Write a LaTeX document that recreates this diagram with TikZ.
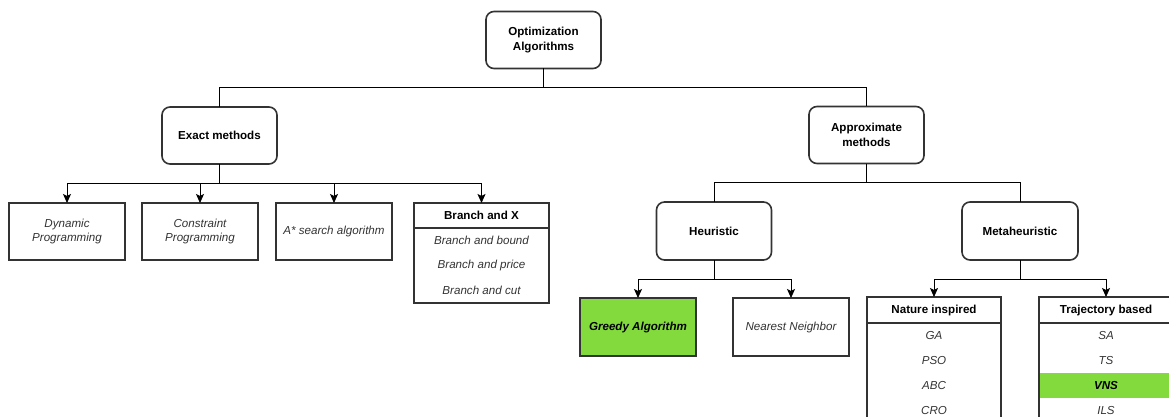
\documentclass[tikz,border=0pt]{standalone}
\usepackage{fontspec}
\setmainfont{Liberation Sans}
\usetikzlibrary{arrows.meta}
\definecolor{boxline}{HTML}{333333}
\definecolor{itemtext}{HTML}{333333}
\definecolor{leafgreen}{RGB}{130,218,60}
\begin{document}
\begin{tikzpicture}[x=1pt,y=-1pt,
  font=\fontsize{11.6}{14.5}\selectfont,
  every node/.style={inner sep=0pt,outer sep=0pt},
  catbox/.style={draw=boxline,line width=1.6pt,rounded corners=8pt,
    minimum width=115pt,minimum height=57pt,align=center,font=\fontsize{11.6}{14.5}\selectfont\bfseries},
  leafbox/.style={draw=boxline,line width=1.6pt,fill=white,
    minimum width=116pt,minimum height=57pt,align=center,text=itemtext,font=\fontsize{11.6}{14.5}\selectfont\itshape},
  listhead/.style={draw=boxline,line width=1.6pt,minimum height=25pt,font=\fontsize{11.6}{14.5}\selectfont\bfseries},
  listrow/.style={minimum height=25pt,text=itemtext,font=\fontsize{11.6}{14.5}\selectfont\itshape},
  link/.style={draw=black,line width=0.8pt},
  arrowlink/.style={link,-{Stealth[length=9pt,width=8pt,inset=2pt]}}
]
\useasboundingbox (0,0) rectangle (1169,417);
\begin{scope}
\clip (0,0) rectangle (1169,417);

% top levels
\node[catbox] (opt) at (543.5,40) {Optimization\\Algorithms};
\node[catbox] (exact) at (219.5,135.5) {Exact methods};
\node[catbox] (approx) at (866.5,135) {Approximate\\methods};
\node[catbox,minimum height=58pt] (heur) at (714,231) {Heuristic};
\node[catbox,minimum width=116pt,minimum height=58pt] (meta) at (1020,231) {Metaheuristic};

% exact leaves
\node[leafbox] (dp) at (67,231.5) {Dynamic\\Programming};
\node[leafbox] (cp) at (200,231.5) {Constraint\\Programming};
\node[leafbox] (astar) at (334,231.5) {A* search algorithm};

% Branch and X list
\draw[boxline,line width=1.6pt] (414,203) rectangle (549,303);
\node[listhead,minimum width=135pt] (bx) at (481.5,215.5) {Branch and X};
\node[listrow] (bb) at (481.5,240.5) {Branch and bound};
\node[listrow] (bp) at (481.5,265.5) {Branch and price};
\node[listrow] (bc) at (481.5,290.5) {Branch and cut};

% heuristic leaves
\node[leafbox,fill=leafgreen,text=black,minimum height=58pt,
  font=\fontsize{11.6}{14.5}\selectfont\bfseries\itshape] (greedy) at (638,327) {Greedy Algorithm};
\node[leafbox,minimum height=58pt] (nn) at (791,327) {Nearest Neighbor};

% Nature inspired list
\draw[boxline,line width=1.6pt] (867,297) rectangle (1001,440);
\node[listhead,minimum width=134pt,minimum height=26pt] (nat) at (934,310) {Nature inspired};
\node[listrow] (ga) at (934,335.5) {GA};
\node[listrow] (pso) at (934,360.5) {PSO};
\node[listrow] (abc) at (934,385.5) {ABC};
\node[listrow] (cro) at (934,410.5) {CRO};

% Trajectory based list
\fill[leafgreen] (1040,373) rectangle (1172,398);
\draw[boxline,line width=1.6pt] (1039,297) rectangle (1173,440);
\node[listhead,minimum width=134pt,minimum height=26pt] (traj) at (1106,310) {Trajectory based};
\node[listrow] (sa) at (1106,335.5) {SA};
\node[listrow] (ts) at (1106,360.5) {TS};
\node[listrow,text=black,font=\fontsize{11.6}{14.5}\selectfont\bfseries\itshape] (vns) at (1106,385.5) {VNS};
\node[listrow] (ils) at (1106,410.5) {ILS};

% connectors
\path[link] (opt.south) -- ++(0,19) -| (exact.north);
\path[link] (opt.south) -- ++(0,19) -| (approx.north);

\path[arrowlink] (exact.south) -- ++(0,19) -| (dp.north);
\path[arrowlink] (exact.south) -- ++(0,19) -| (cp.north);
\path[arrowlink] (exact.south) -- ++(0,19) -| (astar.north);
\path[arrowlink] (exact.south) -- ++(0,19) -| (bx.north);

\path[link] (approx.south) -- ++(0,19) -| (heur.north);
\path[link] (approx.south) -- ++(0,19) -| (meta.north);

\path[arrowlink] (heur.south) -- ++(0,19) -| (greedy.north);
\path[arrowlink] (heur.south) -- ++(0,19) -| (nn.north);

\path[arrowlink] (meta.south) -- ++(0,19) -| (nat.north);
\path[arrowlink] (meta.south) -- ++(0,19) -| (traj.north);
\end{scope}
\end{tikzpicture}
\end{document}
